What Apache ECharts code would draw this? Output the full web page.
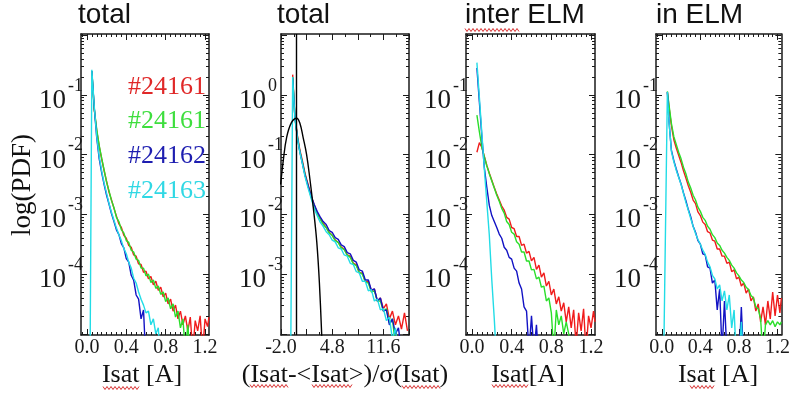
<!DOCTYPE html>
<html><head><meta charset="utf-8">
<script src="https://cdn.jsdelivr.net/npm/echarts@6/dist/echarts.min.js"></script>
<style>html,body{margin:0;padding:0;background:#fff}#c{width:793px;height:394px}</style>
</head><body><div id="c"></div>
<script>
// ---------------- data (log10 of PDF) ----------------
const titles = ['total', 'total', 'inter ELM', 'in ELM'];
const legendNames = ['#24161', '#24161', '#24162', '#24163'];
const xNames = ['Isat [A]', '(Isat-<Isat>)/\u03c3(Isat)', 'Isat[A]', 'Isat [A]'];
const yName = 'log(PDF)';
const isatTickValues = [0, 0.4, 0.8, 1.2];
const normTickValues = [-2.0, 1.4, 4.8, 8.2, 11.6, 15.0];
const normLabelValues = [-2.0, 4.8, 11.6];
const normMinorValues = [-0.3, 3.1, 6.5, 9.9, 13.3];

// Isat [A] sample positions (panels 1 and 3)
const xs1 = [0.03,0.05,0.075,0.1,0.125,0.15,0.175,0.2,0.225,0.25,0.275,0.3,0.325,0.35,0.375,0.4,0.425,0.45,0.475,0.5,0.525,0.55,0.575,0.6,0.625,0.65,0.675,0.7,0.725,0.75,0.775,0.8,0.825,0.85,0.875,0.9,0.925,0.95,0.975,1.0,1.025,1.05,1.075,1.1,1.125,1.15,1.175,1.2,1.225,1.24];
// panel 1: total
const p1Red   = [null,-0.62,-1.25,-1.6,-1.86,-2.07,-2.27,-2.45,-2.63,-2.76,-2.9,-3.03,-3.16,-3.22,-3.35,-3.40,-3.52,-3.55,-3.68,-3.70,-3.83,-3.84,-3.97,-3.95,-4.08,-4.04,-4.18,-4.12,-4.27,-4.22,-4.38,-4.32,-4.50,-4.42,-4.62,-4.52,-4.75,-4.62,-4.85,-4.70,-4.95,-4.72,-5.3,-4.78,-4.95,-4.70,-5.3,-4.75,-4.88,-4.72];
const p1Green = [null,-0.6,-1.24,-1.58,-1.85,-2.06,-2.26,-2.46,-2.61,-2.77,-2.89,-3.05,-3.12,-3.26,-3.31,-3.44,-3.47,-3.6,-3.63,-3.75,-3.77,-3.9,-3.9,-4.03,-4.0,-4.14,-4.1,-4.24,-4.2,-4.34,-4.3,-4.46,-4.4,-4.58,-4.5,-4.72,-4.62,-4.9,-4.75,-5.3,-4.85,-5.4];
const p1Blue  = [null,-0.6,-1.22,-1.72,-2.07,-2.30,-2.50,-2.68,-2.83,-2.99,-3.12,-3.26,-3.34,-3.49,-3.56,-3.74,-3.80,-4.02,-4.10,-4.35,-4.42,-4.75,-4.6,-5.5];
const p1Cyan  = [-6,-0.58,-1.2,-1.70,-2.03,-2.27,-2.48,-2.65,-2.82,-2.97,-3.10,-3.23,-3.34,-3.44,-3.57,-3.66,-3.80,-3.90,-4.07,-4.15,-4.30,-4.42,-4.52,-4.65,-4.62,-4.85,-4.75,-5.0,-4.9,-5.5];

// panel 2: normalised (Isat-<Isat>)/sigma
const xs2 = [-0.8,-0.45,-0.15,0.2,0.5,0.8,1.2,1.6,2.0,2.4,2.8,3.2,3.6,4.0,4.4,4.8,5.2,5.6,6.0,6.4,6.8,7.2,7.6,8.0,8.4,8.8,9.2,9.6,10.0,10.4,10.8,11.2,11.6,12.0,12.4,12.8,13.2,13.6,14.0,14.4,14.8];
const p2Red   = [null,0.34,-0.36,-0.70,-0.92,-1.08,-1.32,-1.50,-1.69,-1.84,-1.97,-2.06,-2.15,-2.22,-2.30,-2.35,-2.43,-2.47,-2.55,-2.58,-2.68,-2.70,-2.82,-2.84,-2.98,-2.98,-3.13,-3.12,-3.28,-3.25,-3.45,-3.40,-3.58,-3.50,-3.75,-3.62,-3.85,-3.70,-3.92,-3.65,-3.95];
const p2Green = [null,0.30,-0.38,-0.72,-0.94,-1.11,-1.34,-1.53,-1.71,-1.85,-1.99,-2.08,-2.17,-2.22,-2.31,-2.35,-2.44,-2.47,-2.56,-2.59,-2.68,-2.72,-2.83,-2.86,-2.97,-3.00,-3.13,-3.15,-3.30,-3.28,-3.45,-3.45,-3.62,-3.58,-3.82,-3.75,-4.2];
const p2Blue  = [null,0.28,-0.38,-0.73,-0.95,-1.12,-1.35,-1.52,-1.69,-1.83,-1.95,-2.04,-2.12,-2.17,-2.27,-2.30,-2.39,-2.42,-2.51,-2.54,-2.64,-2.66,-2.77,-2.80,-2.93,-2.95,-3.10,-3.10,-3.27,-3.25,-3.45,-3.40,-3.62,-3.60,-3.85,-3.75,-4.0,-3.9,-4.3];
const p2Cyan  = [-6,0.30,-0.40,-0.74,-0.96,-1.13,-1.37,-1.56,-1.73,-1.90,-2.02,-2.13,-2.20,-2.29,-2.34,-2.43,-2.46,-2.56,-2.58,-2.68,-2.70,-2.82,-2.84,-2.96,-2.98,-3.12,-3.12,-3.28,-3.26,-3.45,-3.42,-3.60,-3.58,-3.78,-3.72,-4.1,-3.9,-4.4];
const gaussX  = [-2.05,-1.7,-1.25,-0.6,0.08,0.5,0.95,1.4,1.85,2.3,2.75,3.1,3.5];
const gaussY  = [-1.5,-1.10,-0.71,-0.46,-0.39,-0.47,-0.72,-1.0,-1.42,-1.9,-2.46,-3.15,-4.3];
const zeroLine = 0;

// panel 3: inter ELM
const p3Red   = [null,-1.96,-1.80,-1.88,-2.03,-2.18,-2.31,-2.43,-2.55,-2.66,-2.76,-2.86,-2.93,-3.05,-3.08,-3.22,-3.24,-3.37,-3.37,-3.52,-3.50,-3.65,-3.62,-3.78,-3.72,-3.92,-3.85,-4.05,-3.98,-4.20,-4.12,-4.35,-4.25,-4.50,-4.38,-4.62,-4.48,-4.80,-4.55,-4.90,-4.60,-5.2,-4.65,-4.95,-4.58,-5.3,-4.70,-4.90,-4.62,-4.80];
const p3Green = [null,-1.34,-1.62,-1.88,-2.04,-2.19,-2.32,-2.44,-2.56,-2.68,-2.78,-2.90,-2.98,-3.12,-3.17,-3.30,-3.33,-3.46,-3.50,-3.63,-3.63,-3.78,-3.78,-3.93,-3.92,-4.08,-4.05,-4.22,-4.20,-4.45,-4.40,-4.65,-5.3,-4.6,-4.85,-4.7,-5.0,-4.8,-5.0,-5.5];
const p3Blue  = [null,-0.55,-1.12,-1.70,-2.22,-2.55,-2.85,-3.02,-3.12,-3.22,-3.33,-3.40,-3.55,-3.60,-3.72,-3.75,-3.90,-3.95,-4.15,-4.25,-4.55,-4.62,-5.3,-4.70,-5.3,-4.85,-5.5];
const p3Cyan  = [null,-0.46,-1.05,-1.65,-2.25,-2.80,-3.35,-4.10,-4.75,-5.5];

// panel 4: in ELM
const xs4 = [0.015,0.058,0.075,0.1,0.125,0.15,0.175,0.2,0.225,0.25,0.275,0.3,0.325,0.35,0.375,0.4,0.425,0.45,0.475,0.5,0.525,0.55,0.575,0.6,0.625,0.65,0.675,0.7,0.725,0.75,0.775,0.8,0.825,0.85,0.875,0.9,0.925,0.95,0.975,1.0,1.025,1.05,1.075,1.1,1.125,1.15,1.175,1.2,1.225,1.24];
const p4Red   = [null,-0.96,-1.2,-1.52,-1.75,-1.89,-2.01,-2.13,-2.27,-2.39,-2.52,-2.63,-2.76,-2.82,-2.96,-3.02,-3.13,-3.17,-3.29,-3.31,-3.43,-3.45,-3.58,-3.58,-3.70,-3.70,-3.82,-3.80,-3.96,-3.93,-4.08,-4.05,-4.20,-4.15,-4.32,-4.25,-4.45,-4.38,-4.62,-4.50,-4.80,-4.55,-4.85,-4.45,-4.75,-4.30,-4.70,-4.35,-4.65,-4.40];
const p4Green = [null,-0.94,-1.17,-1.48,-1.70,-1.83,-1.96,-2.07,-2.21,-2.32,-2.46,-2.56,-2.68,-2.76,-2.88,-2.95,-3.05,-3.10,-3.20,-3.25,-3.34,-3.39,-3.48,-3.52,-3.60,-3.65,-3.72,-3.77,-3.85,-3.90,-3.98,-4.03,-4.10,-4.14,-4.22,-4.26,-4.36,-4.40,-4.55,-4.58,-4.75,-5.4,-4.85,-4.78,-4.85,-4.78,-4.88,-4.80,-4.85,-4.80];
const p4Blue  = [null,-0.95,-1.45,-1.93,-2.10,-2.24,-2.37,-2.49,-2.64,-2.77,-2.92,-3.04,-3.20,-3.30,-3.44,-3.50,-3.66,-3.68,-3.88,-3.90,-4.15,-4.10,-4.6,-4.25,-5.3,-4.45,-5.3,-5.5,null,null,null,-5.5,-4.55,-5.5];
const p4Cyan  = [-6,-0.95,-1.45,-1.95,-2.12,-2.26,-2.38,-2.50,-2.65,-2.80,-2.93,-3.07,-3.20,-3.32,-3.42,-3.50,-3.60,-3.67,-3.80,-3.88,-4.02,-4.08,-4.25,-4.18,-4.45,-4.28,-4.6,-4.35,-4.9,-4.6,-5.5,-5.5,-4.8,-5.5];

// ---------------- layout & style ----------------
const SERIF = 'Liberation Serif', SANS = 'Liberation Sans';
const COL = {red:'#f01c1c', green:'#2ade2a', blue:'#1212c4', cyan:'#22dce6'};
const LEG = ['#e02828', '#3ede3e', '#1e1eb0', '#30d8e4'];
const boxes = [{l:81,w:128},{l:281,w:128},{l:466,w:129},{l:656,w:127}];
const TOP = 34, H = 301;
const AL = {color:'#1a1a1a', width:1.5};
const TL = {color:'#1a1a1a', width:1};

function range(a, b) { const r = []; for (let k = a; k <= b; k++) r.push(k); return r; }
const isatMinor = range(-1, 24).filter(k => k % 8 !== 0).map(k => +(k * 0.05).toFixed(2));
function yMajor(lo, hi) { return range(Math.ceil(lo), Math.floor(hi)); }
function yMinor(lo, hi) {
  const out = [];
  range(Math.floor(lo), Math.ceil(hi)).forEach(n => { for (let k = 2; k <= 9; k++) { const v = n + Math.log10(k); if (v > lo && v < hi) out.push(v); } });
  return out;
}

const panels = [
  {xmin:-0.06, xmax:1.24, ymin:-5.02, ymax:0.02, major:isatTickValues, labels:isatTickValues, minor:isatMinor, ylabels:[-4,-3,-2,-1]},
  {xmin:-2.0, xmax:15.0, ymin:-4.02, ymax:1.02, major:normTickValues, labels:normLabelValues, minor:normMinorValues, ylabels:[-3,-2,-1,0]},
  {xmin:-0.06, xmax:1.24, ymin:-5.02, ymax:0.02, major:isatTickValues, labels:isatTickValues, minor:isatMinor, ylabels:[-4,-3,-2,-1]},
  {xmin:-0.06, xmax:1.24, ymin:-5.02, ymax:0.02, major:isatTickValues, labels:isatTickValues, minor:isatMinor, ylabels:[-4,-3,-2,-1]}
];

const grid = [], xAxis = [], yAxis = [];
const lineOn = {show:true, onZero:false, lineStyle:AL};
const lineOff = {show:false, onZero:false};
panels.forEach((p, g) => {
  grid.push({left:boxes[g].l, top:TOP, width:boxes[g].w, height:H, show:false});
  const bx = {gridIndex:g, type:'value', min:p.xmin, max:p.xmax, splitLine:{show:false}};
  xAxis.push(
    Object.assign({}, bx, {position:'bottom', axisLine:lineOn,
      axisTick:{show:true, inside:true, length:6, customValues:p.major, lineStyle:TL},
      axisLabel:{show:true, customValues:p.labels, formatter:v => (+v).toFixed(1), fontFamily:SERIF, fontSize:20, color:'#1a1a1a', margin:3}}),
    Object.assign({}, bx, {position:'bottom', axisLine:lineOff,
      axisTick:{show:true, inside:true, length:3, customValues:p.minor, lineStyle:TL}, axisLabel:{show:false}}),
    Object.assign({}, bx, {position:'top', axisLine:lineOn,
      axisTick:{show:true, inside:true, length:6, customValues:p.major, lineStyle:TL}, axisLabel:{show:false}}),
    Object.assign({}, bx, {position:'top', axisLine:lineOff,
      axisTick:{show:true, inside:true, length:3, customValues:p.minor, lineStyle:TL}, axisLabel:{show:false}})
  );
  const by = {gridIndex:g, type:'value', min:p.ymin, max:p.ymax, splitLine:{show:false}};
  const maj = yMajor(p.ymin, p.ymax), mnr = yMinor(p.ymin, p.ymax);
  yAxis.push(
    Object.assign({}, by, {position:'left', axisLine:lineOn,
      axisTick:{show:true, inside:true, length:6, customValues:maj, lineStyle:TL},
      axisLabel:{show:true, customValues:p.ylabels, align:'left', margin:42,
        formatter:v => '{b|10}{e|' + Math.round(v) + '}',
        rich:{b:{fontFamily:SERIF, fontSize:27, lineHeight:27, padding:[12,0,0,0], color:'#1a1a1a'},
              e:{fontFamily:SERIF, fontSize:18, lineHeight:18, padding:[0,0,18,2], color:'#1a1a1a'}}}}),
    Object.assign({}, by, {position:'left', axisLine:lineOff,
      axisTick:{show:true, inside:true, length:3, customValues:mnr, lineStyle:TL}, axisLabel:{show:false}}),
    Object.assign({}, by, {position:'right', axisLine:lineOn,
      axisTick:{show:true, inside:true, length:6, customValues:maj, lineStyle:TL}, axisLabel:{show:false}}),
    Object.assign({}, by, {position:'right', axisLine:lineOff,
      axisTick:{show:true, inside:true, length:3, customValues:mnr, lineStyle:TL}, axisLabel:{show:false}})
  );
});

function line(g, xs, ys, color, extra) {
  return Object.assign({type:'line', xAxisIndex:4*g, yAxisIndex:4*g,
    data: xs.map((x, i) => [x, ys[i] == null ? null : ys[i]]),
    symbol:'none', showSymbol:false, lineStyle:{color, width:1.4}, itemStyle:{color},
    animation:false, silent:true, clip:true}, extra || {});
}
const series = [
  line(0, xs1, p1Red, COL.red), line(0, xs1, p1Green, COL.green), line(0, xs1, p1Blue, COL.blue), line(0, xs1, p1Cyan, COL.cyan),
  line(1, xs2, p2Red, COL.red), line(1, xs2, p2Green, COL.green), line(1, xs2, p2Blue, COL.blue), line(1, xs2, p2Cyan, COL.cyan),
  line(1, gaussX, gaussY, '#000', {smooth:0.4, markLine:{silent:true, symbol:['none','none'], label:{show:false},
    lineStyle:{color:'#000', width:1.4, type:'solid'}, data:[{xAxis:zeroLine}]}}),
  line(2, xs1, p3Red, COL.red), line(2, xs1, p3Green, COL.green), line(2, xs1, p3Blue, COL.blue), line(2, xs1, p3Cyan, COL.cyan),
  line(3, xs4, p4Red, COL.red), line(3, xs4, p4Green, COL.green), line(3, xs4, p4Blue, COL.blue), line(3, xs4, p4Cyan, COL.cyan)
];

// ---------------- text & decorations ----------------
const graphic = [];
const titleX = [78, 277, 465, 656];
titles.forEach((t, i) => graphic.push({type:'text', x:titleX[i], y:15, silent:true,
  style:{text:t, fill:'#111', fontFamily:SANS, fontSize:28, align:'left', verticalAlign:'middle'}}));
const legY = [87, 121, 156, 191];
legendNames.forEach((t, i) => graphic.push({type:'text', x:206, y:legY[i], silent:true, z:10,
  style:{text:t, fill:LEG[i], fontFamily:SERIF, fontSize:26, align:'right', verticalAlign:'middle'}}));
const xNameX = [142, 345, 528, 718];
xNames.forEach((t, i) => graphic.push({type:'text', x:xNameX[i], y:375, silent:true,
  style:{text:t, fill:'#111', fontFamily:SERIF, fontSize:26, align:'center', verticalAlign:'middle'}}));
graphic.push({type:'text', x:23, y:185, rotation:Math.PI/2, silent:true,
  style:{text:yName, fill:'#111', fontFamily:SERIF, fontSize:27, align:'center', verticalAlign:'middle'}});
function squiggle(x0, x1, y) {
  const pts = []; let k = 0;
  for (let x = x0; x <= x1; x += 2, k++) pts.push([x, y + (k % 2 ? 1.5 : -1.5)]);
  return {type:'polyline', silent:true, shape:{points:pts}, style:{stroke:'#d83232', lineWidth:1, fill:null}};
}
[[103,140,388],[250,288,386],[312,352,386],[402,440,387],[492,528,386],[690,715,387],[465,520,30]]
  .forEach(s => graphic.push(squiggle(s[0], s[1], s[2])));

const chart = echarts.init(document.getElementById('c'), null, {renderer:'canvas'});
chart.setOption({animation:false, backgroundColor:'#fff', textStyle:{fontFamily:SERIF},
  grid, xAxis, yAxis, series, graphic});
</script></body></html>
